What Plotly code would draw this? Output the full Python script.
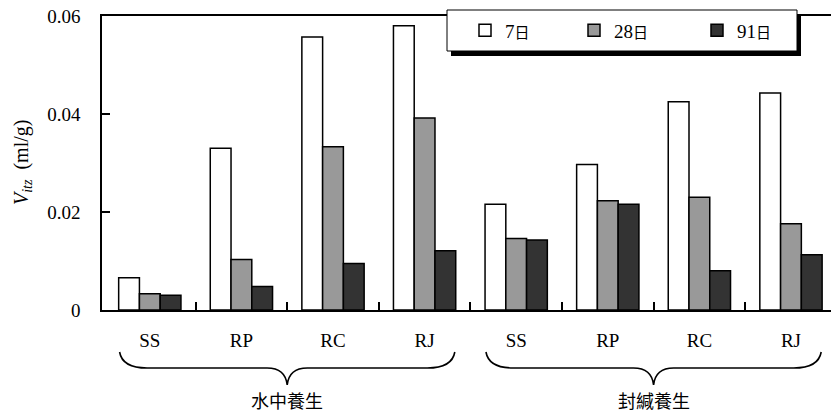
import plotly.graph_objects as go

# Pore volume V_itz (ml/g) per mix, age and curing method
groups = ["水中養生", "封緘養生"]
mixes = ["SS", "RP", "RC", "RJ"]
categories = mixes + mixes
ages = ["7日", "28日", "91日"]
v_7d = [0.0066, 0.0330, 0.0557, 0.0580, 0.0216, 0.0297, 0.0425, 0.0443]
v_28d = [0.0033, 0.0103, 0.0333, 0.0392, 0.0146, 0.0223, 0.0230, 0.0176]
v_91d = [0.0030, 0.0048, 0.0095, 0.0121, 0.0143, 0.0216, 0.0080, 0.0113]
y_ticks = [0, 0.02, 0.04, 0.06]
y_tick_text = ["0", "0.02", "0.04", "0.06"]

series = [v_7d, v_28d, v_91d]
colors = ["#ffffff", "#999999", "#333333"]
legend_ids = ["legend", "legend2", "legend3"]

SERIF = "Times New Roman"
CJK = "Noto Sans CJK TC"

positions = list(range(len(categories)))
boundaries = [p + 0.5 for p in positions[:-1]]

W, H = 831, 414
L, R, T, B = 102, 0, 16, 104
PW, PH = W - L - R, H - T - B


def px_x(px):
    return (px - L) / PW


def px_y(py):
    return (H - B - py) / PH


fig = go.Figure()
for name, vals, col, lg in zip(ages, series, colors, legend_ids):
    label = name[:-1] + f"<span style='font-family:{CJK};font-size:15px'>{name[-1]}</span>"
    fig.add_trace(go.Bar(
        x=positions, y=vals, name=label, legend=lg,
        marker=dict(color=col, line=dict(color="black", width=1.5)),
    ))

# Legend frame with drop shadow
box_x0, box_x1, box_y0, box_y1 = 447, 797, 10, 51
fig.add_shape(type="rect", xref="paper", yref="paper",
              x0=px_x(box_x0 + 4), x1=px_x(box_x1 + 4),
              y0=px_y(box_y0 + 5), y1=px_y(box_y1 + 5),
              fillcolor="black", line=dict(width=0), layer="above")
fig.add_shape(type="rect", xref="paper", yref="paper",
              x0=px_x(box_x0), x1=px_x(box_x1),
              y0=px_y(box_y0), y1=px_y(box_y1),
              fillcolor="white", line=dict(color="black", width=1), layer="above")

# Curly braces under each curing group, with group labels
n = len(mixes)
half = 1.83
y_end, y_mid, y_tip = px_y(352), px_y(368), px_y(385)
for gi, gname in enumerate(groups):
    xc = sum(positions[gi * n:(gi + 1) * n]) / n
    x0, x1 = xc - half, xc + half
    path = (f"M {x0},{y_end} Q {x0 + 0.03},{y_mid} {x0 + 0.3},{y_mid} "
            f"L {xc - 0.22},{y_mid} Q {xc - 0.02},{y_mid} {xc},{y_tip} "
            f"Q {xc + 0.02},{y_mid} {xc + 0.22},{y_mid} "
            f"L {x1 - 0.3},{y_mid} Q {x1 - 0.03},{y_mid} {x1},{y_end}")
    fig.add_shape(type="path", xref="x", yref="paper", path=path,
                  line=dict(color="black", width=1.6))
    fig.add_annotation(x=xc, y=px_y(400), xref="x", yref="paper",
                       text=gname, showarrow=False,
                       xanchor="center", yanchor="middle",
                       font=dict(family=CJK, size=18, color="black"))

# Y axis title
fig.add_annotation(x=px_x(22), y=0.5, xref="paper", yref="paper",
                   text="<i>V</i><sub><i>itz</i></sub>  (ml/g)",
                   textangle=-90, showarrow=False,
                   xanchor="center", yanchor="middle",
                   font=dict(family=SERIF, size=20, color="black"))

legend_common = dict(orientation="h", bgcolor="rgba(0,0,0,0)", borderwidth=0,
                     xanchor="left", yanchor="middle", y=px_y(30.5),
                     font=dict(family=SERIF, size=19, color="black"))
swatch_centers = [487, 596, 719]
legend_layouts = {}
for lg, cx in zip(legend_ids, swatch_centers):
    legend_layouts[lg] = dict(legend_common, x=px_x(cx - 22))

fig.update_layout(
    width=W, height=H,
    margin=dict(l=L, r=R, t=T, b=B, pad=0),
    paper_bgcolor="white", plot_bgcolor="white",
    barmode="group", bargap=0.32, bargroupgap=0,
    showlegend=True,
    font=dict(family=SERIF, size=19, color="black"),
    **legend_layouts,
)

fig.update_xaxes(
    range=[-0.522, 7.437],
    tickvals=positions, ticktext=categories,
    ticks="", showgrid=False, zeroline=False,
    showline=True, linecolor="black", linewidth=1.5, mirror=True,
    ticklabelstandoff=12,
    tickfont=dict(family=SERIF, size=19, color="black"),
    minor=dict(tickvals=boundaries, ticks="inside", ticklen=8,
               tickwidth=1.5, tickcolor="black", showgrid=False),
)
fig.update_yaxes(
    range=[0, 0.06],
    tickvals=y_ticks, ticktext=y_tick_text,
    ticks="inside", ticklen=8, tickwidth=1.5, tickcolor="black",
    showgrid=False, zeroline=False,
    showline=True, linecolor="black", linewidth=1.5, mirror=False,
    ticklabelstandoff=16,
    tickfont=dict(family=SERIF, size=19, color="black"),
)

fig.write_html("out.html")
